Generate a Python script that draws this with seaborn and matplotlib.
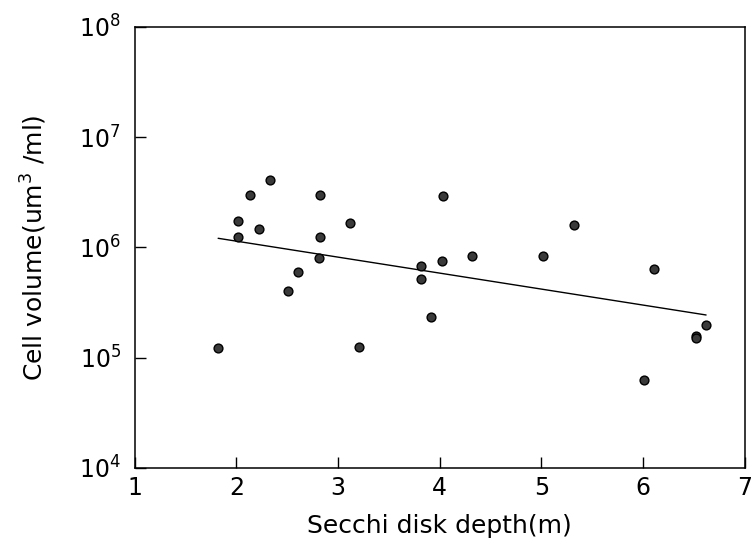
import numpy as np
import pandas as pd
import matplotlib
matplotlib.use("Agg")
import matplotlib.pyplot as plt
import seaborn as sns

# values
secchi = [1.82, 2.02, 2.02, 2.13, 2.22, 2.33, 2.51, 2.61, 2.82, 2.82, 2.81,
          3.12, 3.21, 3.82, 3.82, 3.91, 4.03, 4.02, 4.32, 5.02, 5.32,
          6.11, 6.01, 6.52, 6.52, 6.62]
cell_vol = [1.22e5, 1.72e6, 1.25e6, 3.0e6, 1.47e6, 4.06e6, 4.06e5, 6.0e5, 2.96e6, 1.25e6, 8.1e5,
            1.66e6, 1.25e5, 6.8e5, 5.2e5, 2.33e5, 2.9e6, 7.5e5, 8.3e5, 8.3e5, 1.61e6,
            6.4e5, 6.3e4, 1.56e5, 1.5e5, 2.0e5]
fit_x = [1.82, 6.62]
fit_y = [1.21e6, 2.44e5]
x_ticks = [1, 2, 3, 4, 5, 6, 7]

df = pd.DataFrame({"depth": secchi, "vol": cell_vol})
fit = pd.DataFrame({"depth": fit_x, "vol": fit_y})

sns.set_style("ticks")
plt.rcParams["font.family"] = ["DejaVu Sans"]
plt.rcParams["text.color"] = "black"
plt.rcParams["axes.labelcolor"] = "black"
plt.rcParams["xtick.color"] = "black"
plt.rcParams["ytick.color"] = "black"

fig = plt.figure(figsize=(7.53, 5.48), dpi=100)
ax = fig.add_axes([0.179, 0.146, 0.81, 0.805])

sns.lineplot(data=fit, x="depth", y="vol", color="black", linewidth=1.0, ax=ax)
sns.scatterplot(data=df, x="depth", y="vol", color="#3a3a3a", edgecolor="black",
                s=40, linewidth=1.0, ax=ax, zorder=3)

ax.set_yscale("log")
ax.set_xlim(1, 7)
ax.set_ylim(1e4, 1e8)
ax.set_xticks(x_ticks)
ax.set_yticks([1e4, 1e5, 1e6, 1e7, 1e8])
ax.minorticks_off()
ax.tick_params(direction="in", length=8, width=1, labelsize=17)
ax.tick_params(axis="x", pad=6)
ax.tick_params(axis="y", pad=10)
for s in ax.spines.values():
    s.set_linewidth(1.1)
    s.set_color("black")

ax.set_xlabel("Secchi disk depth(m)", fontsize=18, labelpad=10)
ax.set_ylabel("Cell volume(um$^{3}$ /ml)", fontsize=18, labelpad=22)

fig.savefig("out.png", dpi=100)
